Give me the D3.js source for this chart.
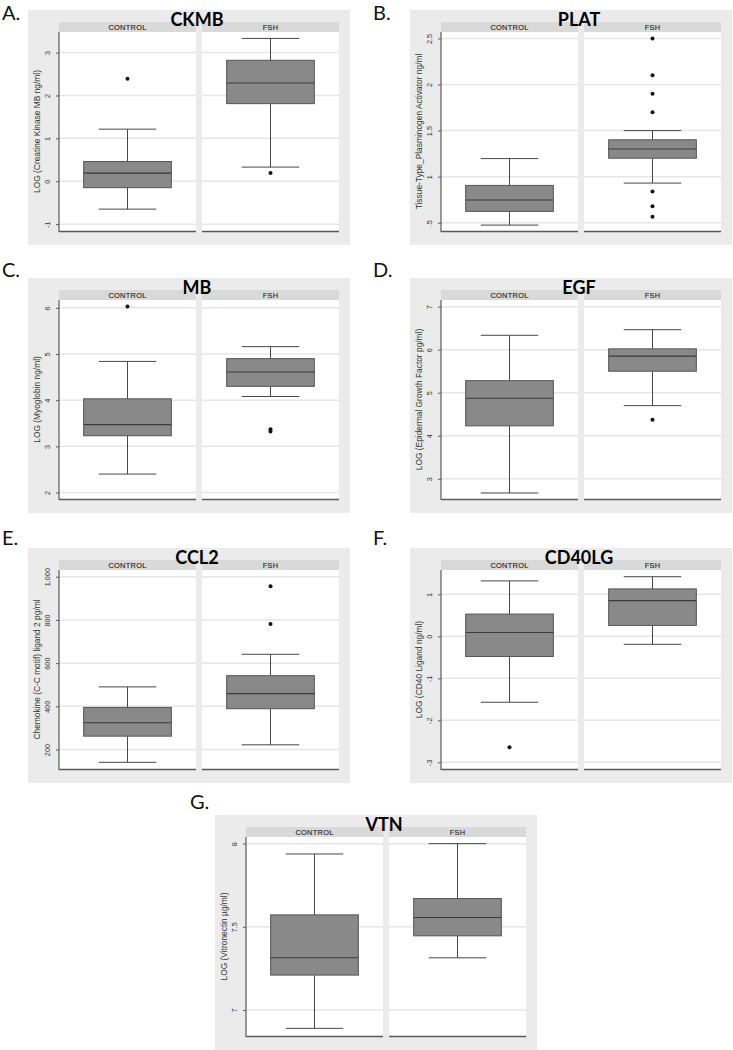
<!DOCTYPE html>
<html>
<head>
<meta charset="utf-8">
<script src="https://cdn.jsdelivr.net/npm/d3@7"></script>
<style>
  html, body { margin: 0; padding: 0; background: #ffffff; }
  svg { display: block; }
</style>
</head>
<body>
<svg id="chart" width="733" height="1050"></svg>
<script>
// ---------------- DATA ----------------
const groups = ["CONTROL", "FSH"];
const panelLetters = ["A.", "B.", "C.", "D.", "E.", "F.", "G."];
const panelTitles = ["CKMB", "PLAT", "MB", "EGF", "CCL2", "CD40LG", "VTN"];
const yTitles = [
  "LOG (Creatine Kinase MB ng/ml)",
  "Tissue-Type_Plasminogen Activator ng/ml",
  "LOG (Myoglobin ng/ml)",
  "LOG (Epidermal Growth Factor pg/ml)",
  "Chemokine (C-C motif) ligand 2 pg/ml",
  "LOG (CD40 Ligand ng/ml)",
  "LOG (Vitronectin \u00b5g/ml)"
];
const yDomains = [
  [-1.16, 3.48], [0.41, 2.57], [1.86, 6.17], [2.53, 7.155],
  [110, 1031], [-3.16, 1.58], [6.844, 8.04]
];
const yTicks = [
  [-1, 0, 1, 2, 3], [0.5, 1, 1.5, 2, 2.5], [2, 3, 4, 5, 6], [3, 4, 5, 6, 7],
  [200, 400, 600, 800, 1000], [-3, -2, -1, 0, 1], [7, 7.5, 8]
];
const yTickLabels = [
  ["-1", "0", "1", "2", "3"], [".5", "1", "1.5", "2", "2.5"], ["2", "3", "4", "5", "6"],
  ["3", "4", "5", "6", "7"], ["200", "400", "600", "800", "1,000"],
  ["-3", "-2", "-1", "0", "1"], ["7", "7.5", "8"]
];
// box stats: [lower whisker, Q1, median, Q3, upper whisker]
const controlStats = [
  [-0.65, -0.15, 0.19, 0.46, 1.215],
  [0.474, 0.623, 0.747, 0.905, 1.196],
  [2.40, 3.23, 3.47, 4.03, 4.84],
  [2.67, 4.23, 4.87, 5.28, 6.335],
  [141, 262, 324, 395, 490],
  [-1.57, -0.48, 0.09, 0.53, 1.32],
  [6.89, 7.21, 7.314, 7.572, 7.938]
];
const fshStats = [
  [0.33, 1.81, 2.29, 2.82, 3.33],
  [0.93, 1.20, 1.30, 1.40, 1.50],
  [4.08, 4.30, 4.61, 4.90, 5.16],
  [4.70, 5.50, 5.85, 6.02, 6.465],
  [222, 389, 459, 542, 641],
  [-0.19, 0.26, 0.85, 1.13, 1.42],
  [7.314, 7.446, 7.556, 7.67, 8.00]
];
const controlOutliers = [[2.39], [], [6.03], [], [], [-2.64], []];
const fshOutliers = [[0.19], [2.5, 2.1, 1.9, 1.7, 0.84, 0.68, 0.565], [3.37, 3.32], [4.37], [956, 781], [], []];

// ---------------- LAYOUT ----------------
const layout = [
  {x: 28, y: 10, lx: 2, ly: 20},
  {x: 410, y: 10, lx: 373, ly: 20},
  {x: 28, y: 278, lx: 2, ly: 277},
  {x: 410, y: 278, lx: 373, ly: 277},
  {x: 28, y: 548, lx: 2, ly: 545},
  {x: 410, y: 548, lx: 373, ly: 545},
  {x: 215, y: 815, lx: 190, ly: 809}
];
const BG_W = 322, BG_H = 235;
const C = {
  bg: "#ebebeb", strip: "#d9d9d9", facet: "#ffffff", grid: "#e6e6e6",
  box: "#898989", boxStroke: "#555555", line: "#474747", axis: "#5a5a5a", text: "#333333"
};

const svg = d3.select("#chart");

panelTitles.forEach((title, i) => {
  const L = layout[i];
  const g = svg.append("g").attr("transform", `translate(${L.x},${L.y})`);
  const left = 31, right = 311, stripTop = 12, stripH = 10, top = 22, bottom = 221;

  svg.append("text").attr("x", L.lx).attr("y", L.ly)
    .attr("font-family", "Lato, 'Open Sans', sans-serif").attr("font-size", 20)
    .attr("fill", "#111").text(panelLetters[i]);

  g.append("rect").attr("x", 0).attr("y", 0).attr("width", BG_W).attr("height", BG_H).attr("fill", C.bg);

  const x = d3.scaleBand().domain(groups).range([left, right]).paddingInner(6 / 143);
  const y = d3.scaleLinear().domain(yDomains[i]).range([bottom, top]);

  const stats = [controlStats[i], fshStats[i]];
  const outs = [controlOutliers[i], fshOutliers[i]];

  groups.forEach((grp, k) => {
    const fx = x(grp), bw = x.bandwidth(), cx = fx + bw / 2;
    // strip
    g.append("rect").attr("x", fx).attr("y", stripTop).attr("width", bw).attr("height", stripH).attr("fill", C.strip);
    g.append("text").attr("x", cx).attr("y", stripTop + stripH / 2 + 2.6)
      .attr("text-anchor", "middle").attr("font-family", "'Liberation Sans', Arial, sans-serif")
      .attr("font-size", 7.4).attr("letter-spacing", 0.3).attr("fill", "#2a2a2a")
      .attr("stroke", "#2a2a2a").attr("stroke-width", 0.15).text(grp);
    // facet
    g.append("rect").attr("x", fx).attr("y", top).attr("width", bw).attr("height", bottom - top).attr("fill", C.facet);
    // grid
    g.selectAll(null).data(yTicks[i]).enter().append("line")
      .attr("x1", fx).attr("x2", fx + bw).attr("y1", d => y(d)).attr("y2", d => y(d))
      .attr("stroke", C.grid).attr("stroke-width", 1.5);
    // box
    const s = stats[k];
    const boxW = bw * 0.64, capW = bw * 0.42;
    g.append("line").attr("x1", cx).attr("x2", cx).attr("y1", y(s[0])).attr("y2", y(s[1]))
      .attr("stroke", C.line).attr("stroke-width", 1);
    g.append("line").attr("x1", cx).attr("x2", cx).attr("y1", y(s[3])).attr("y2", y(s[4]))
      .attr("stroke", C.line).attr("stroke-width", 1);
    [s[0], s[4]].forEach(v => {
      g.append("line").attr("x1", cx - capW / 2).attr("x2", cx + capW / 2).attr("y1", y(v)).attr("y2", y(v))
        .attr("stroke", C.line).attr("stroke-width", 1);
    });
    g.append("rect").attr("x", cx - boxW / 2).attr("y", y(s[3])).attr("width", boxW)
      .attr("height", y(s[1]) - y(s[3])).attr("fill", C.box).attr("stroke", C.boxStroke).attr("stroke-width", 1);
    g.append("line").attr("x1", cx - boxW / 2).attr("x2", cx + boxW / 2).attr("y1", y(s[2])).attr("y2", y(s[2]))
      .attr("stroke", "#3a3a3a").attr("stroke-width", 1.1);
    // outliers
    g.selectAll(null).data(outs[k]).enter().append("circle")
      .attr("cx", cx).attr("cy", d => y(d)).attr("r", 2).attr("fill", "#111");
    // bottom axis line
    g.append("line").attr("x1", fx).attr("x2", fx + bw).attr("y1", bottom + 0.5).attr("y2", bottom + 0.5)
      .attr("stroke", C.axis).attr("stroke-width", 1.5);
  });

  // left axis
  const axis = d3.axisLeft(y).tickValues(yTicks[i]).tickSize(3).tickPadding(3)
    .tickFormat((d, j) => yTickLabels[i][j]);
  const ag = g.append("g").attr("transform", `translate(${left},0)`).call(axis);
  ag.select(".domain").attr("stroke", C.axis).attr("stroke-width", 1.2)
    .attr("d", `M0,${top}V${bottom + 1}`);
  ag.selectAll(".tick line").attr("stroke", C.axis);
  ag.selectAll(".tick text")
    .attr("font-family", "'Liberation Sans', Arial, sans-serif").attr("font-size", 7.3).attr("fill", C.text)
    .attr("transform", "rotate(-90)").attr("x", 0).attr("y", -9).attr("dy", 0)
    .attr("text-anchor", "middle");

  // y title
  g.append("text").attr("transform", `translate(12,${(top + bottom) / 2}) rotate(-90)`)
    .attr("text-anchor", "middle").attr("font-family", "'Liberation Sans', Arial, sans-serif")
    .attr("font-size", 8.4).attr("fill", C.text).text(yTitles[i]);

  // panel title
  const gapCenter = x(groups[1]) - (x.step() - x.bandwidth()) / 2;
  g.append("text").attr("x", gapCenter - 2).attr("y", 16)
    .attr("text-anchor", "middle").attr("font-family", "Lato, 'Open Sans', sans-serif")
    .attr("font-weight", "bold").attr("font-size", 18).attr("fill", "#000").text(title);
});
</script>
</body>
</html>
